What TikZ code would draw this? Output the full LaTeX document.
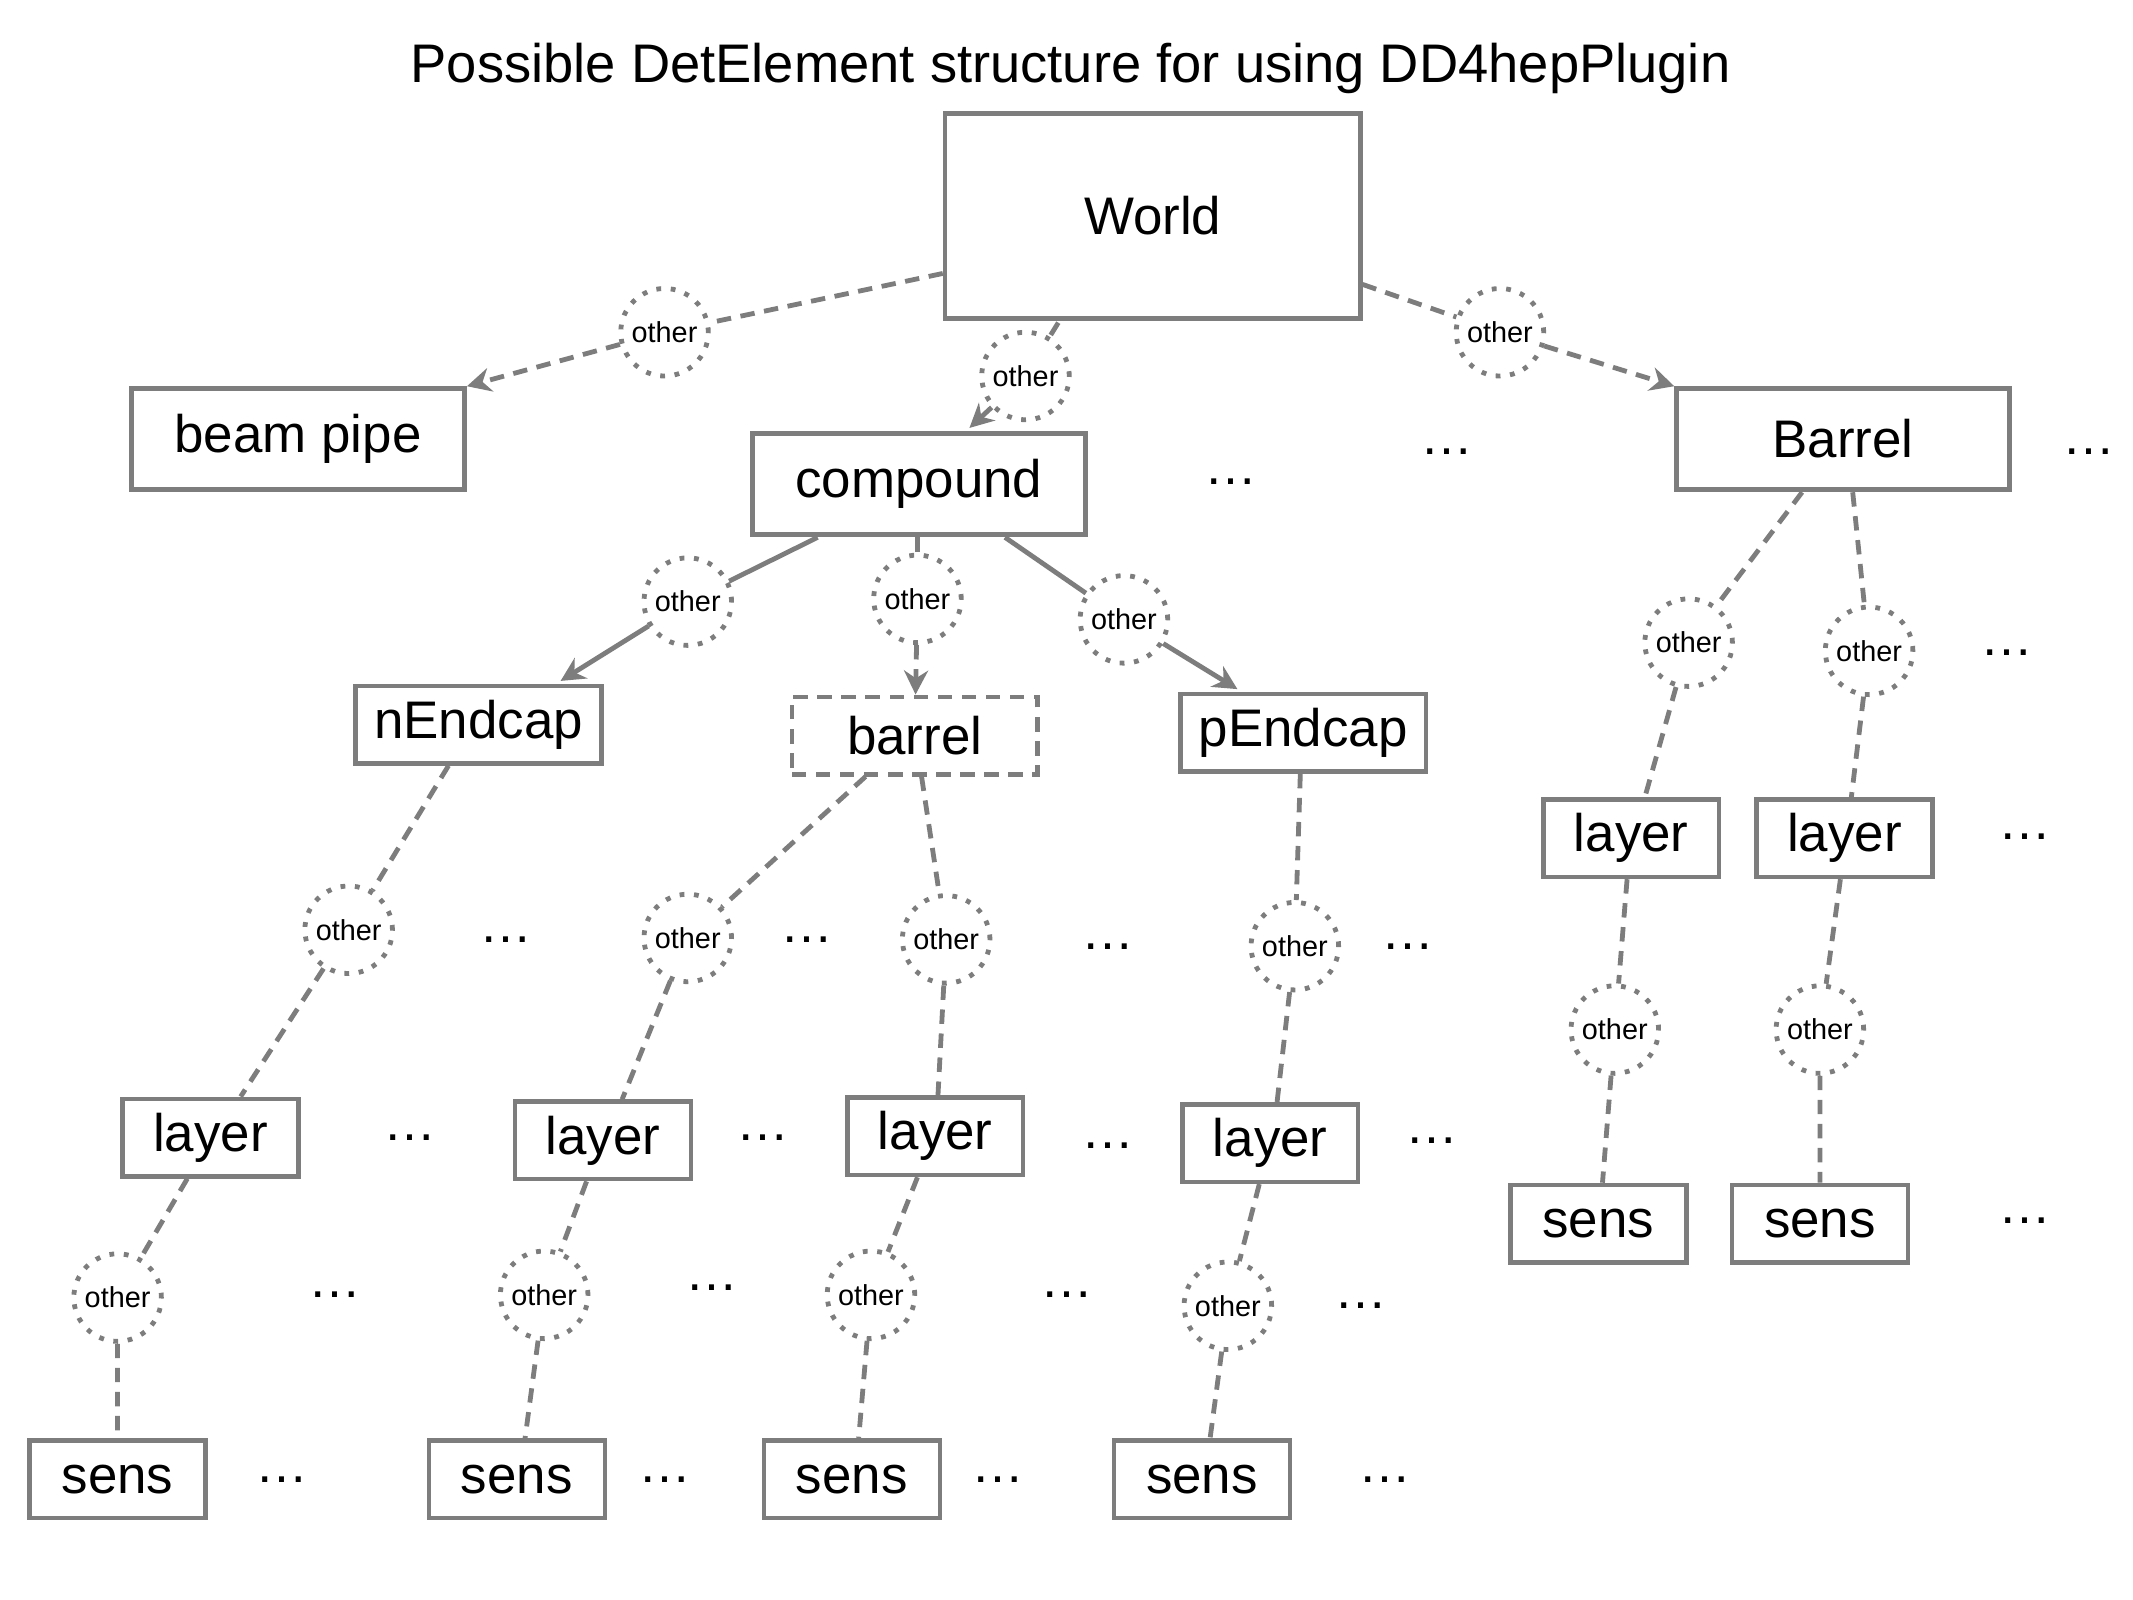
\documentclass[tikz,border=0pt]{standalone}
\usepackage{fontspec}
\setmainfont{Liberation Sans}
\usetikzlibrary{arrows.meta}
\definecolor{gr}{RGB}{125,125,125}
\begin{document}
\begin{tikzpicture}[x=0.01cm,y=-0.01cm,
 box/.style={draw=gr,line width=0.95pt,minimum width=#1*0.01cm-0.95pt,font=\fontsize{11}{13}\selectfont,inner sep=0pt},
 box/.default=132,
 oth/.style={circle,draw=gr,line width=1pt,dotted,minimum size=0.64cm,inner sep=0pt,font=\fontsize{6}{7}\selectfont},
 dl/.style={draw=gr,line width=1pt,dash pattern=on 3pt off 2pt},
 sl/.style={draw=gr,line width=1pt},
 ar/.style={-{Stealth[length=5pt,width=5pt]}},
 dots/.style={font=\fontsize{11}{13}\selectfont}]
\useasboundingbox (0,0) rectangle (1560,1170);
\node at (783,50) {\fontsize{11.3}{13}\selectfont Possible DetElement structure for using DD4hepPlugin};
\node[box=307,minimum height=1.53cm-0.95pt] (W) at (843,158) {World};
\node[box=247,minimum height=0.77cm-0.95pt] (BP) at (218,321) {beam pipe};
\node[box=247,minimum height=0.77cm-0.95pt] (C) at (672,354) {compound};
\node[box=247,minimum height=0.77cm-0.95pt] (BR) at (1348,321) {Barrel};
\node[box=183,minimum height=0.6cm-0.95pt] (NE) at (350,530) {nEndcap};
\node[box=183,minimum height=0.6cm-0.95pt,dash pattern=on 3pt off 2pt] (BA) at (669,538) {barrel};
\node[box=183,minimum height=0.6cm-0.95pt] (PE) at (953,536) {pEndcap};
\foreach \n/\x/\y in {L1/154/832,L2/441/834,L3/684/831,L4/929/836,L5/1193/613,L6/1349/613,
  S1/86/1082,S2/378/1082,S3/623/1082,S4/879/1082,S5/1169/895,S6/1331/895}
  \node[box,minimum height=0.6cm-0.95pt] (\n) at (\x,\y) {\ifnum\pdfstrcmp{\n}{S}>0 sens\else layer\fi};
\foreach \n/\x/\y in {obp/486/243,oc/750/275,oB/1097/243,on/503/440,ob/671/438,op/822/453,
  oB1/1235/470,oB2/1367/476,on1/255/680,ob1/503/686,ob2/692/687,op1/947/692,
  oL1/86/949,oL2/398/947,oL3/637/947,oL4/898/955,oL5/1181/753,oL6/1331/753}
  \node[oth] (\n) at (\x,\y) {other};
\foreach \i/\x/\y in {1/900/352,2/1058/330,3/1528/330,4/1468/477,5/1481/612,6/1481/893,7/370/687,8/590/687,9/810/692,10/1030/692,11/300/832,12/558/832,13/810/838,14/1047/834,15/245/947,16/521/942,17/780/947,18/995/955,19/206/1082,20/486/1082,21/730/1082,22/1013/1082}
  \node[dots] (d\i) at (\x,\y) {…};
\draw[dl] (W.west|-0,200) -- (obp); \draw[dl,ar] (obp) -- (BP.north east);
\draw[dl] (774,236) -- (oc); \draw[dl,ar] (oc) -- (709,313);
\draw[dl] (W.east|-0,208) -- (oB); \draw[dl,ar] (oB) -- (BR.north west);
\draw[sl] (598,393) -- (on); \draw[sl,ar] (on) -- (410,498);
\draw[dl] (671,393) -- (ob); \draw[dl,ar] (ob) -- (BA);
\draw[sl] (735,393) -- (op); \draw[sl,ar] (op) -- (905,504);
\draw[dl] (1318,360) -- (oB1) -- (1203,583);
\draw[dl] (1355,360) -- (oB2) -- (1354,583);
\draw[dl] (328,560) -- (on1) -- (176,802);
\draw[dl] (633,568) -- (ob1) -- (455,804);
\draw[dl] (674,568) -- (ob2) -- (686,801);
\draw[dl] (951,566) -- (op1) -- (934,806);
\draw[dl] (137,862) -- (oL1) -- (86,1052);
\draw[dl] (429,864) -- (oL2) -- (384,1052);
\draw[dl] (671,861) -- (oL3) -- (628,1052);
\draw[dl] (921,866) -- (oL4) -- (885,1052);
\draw[dl] (1190,643) -- (oL5) -- (1172,865);
\draw[dl] (1346,643) -- (oL6) -- (1331,865);
\end{tikzpicture}
\end{document}
